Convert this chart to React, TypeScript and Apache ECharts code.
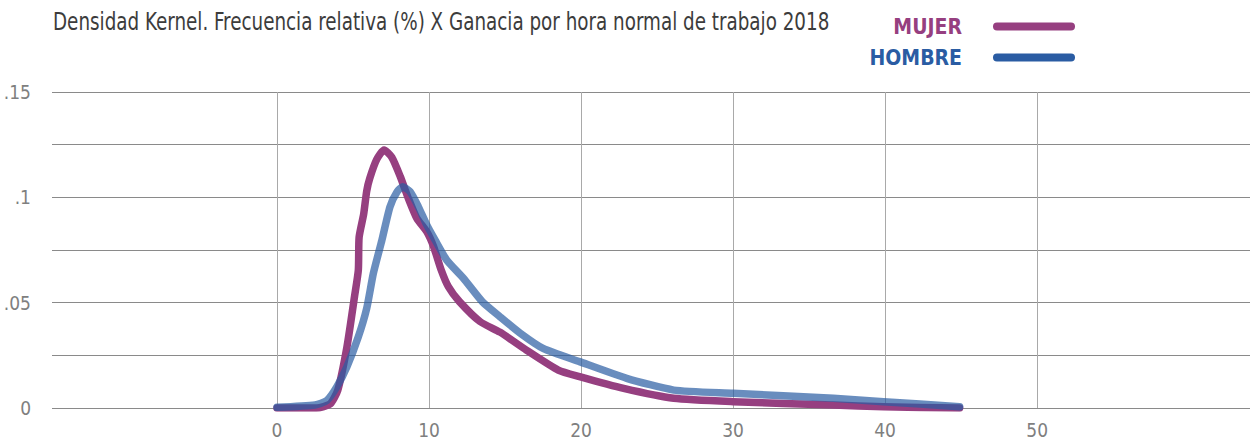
import React, { useEffect, useRef } from "react";
import * as echarts from "echarts";

const titleText = "Densidad Kernel. Frecuencia relativa (%) X Ganacia por hora normal de trabajo 2018";
const seriesNames = ["MUJER", "HOMBRE"];
const xTickValues = [0, 10, 20, 30, 40, 50];

const mujerX = [0, 2.6, 3.5, 4.0, 4.6, 5.1, 5.35, 5.4, 5.7, 5.9, 6.1, 6.56, 7.04, 7.55, 8.1, 8.64, 9.2, 9.85, 10.3, 10.8, 11.27, 12.0, 13.36, 14.67, 16.4, 18.5, 19.9, 22.8, 26.1, 30, 36.6, 39.9, 44.9];
const mujerY = [0, 0, 0.002, 0.0085, 0.029, 0.053, 0.0655, 0.081, 0.092, 0.103, 0.109, 0.118, 0.1225, 0.119, 0.11, 0.0995, 0.09, 0.0837, 0.0766, 0.0655, 0.0576, 0.0505, 0.041, 0.036, 0.0275, 0.018, 0.0149, 0.0093, 0.0046, 0.003, 0.0014, 0.0006, 0];

const hombreX = [0, 2.5, 3.27, 3.93, 4.6, 5.35, 5.9, 6.34, 6.9, 7.43, 7.9, 8.27, 8.75, 9.3, 9.85, 10.4, 11.16, 12.26, 13.5, 14.67, 16, 17.5, 19.9, 23, 26.1, 30, 36.6, 39.9, 44.9];
const hombreY = [0.0003, 0.0014, 0.0035, 0.01, 0.0196, 0.0338, 0.0473, 0.064, 0.0797, 0.0955, 0.1027, 0.105, 0.1027, 0.0955, 0.0869, 0.0797, 0.0703, 0.0616, 0.0505, 0.0433, 0.0355, 0.0283, 0.022, 0.0141, 0.0085, 0.007, 0.0046, 0.003, 0.0006];

const FONT = "'DejaVu Sans Condensed', sans-serif";
const MAGENTA = "#963f80";
const BLUE = "#2a5ca3";

const pair = (xs: number[], ys: number[]) => xs.map((x, i) => [x, ys[i]]);

const yLabel = (v: number) => {
  const r = Math.round(v * 1000) / 1000;
  if (Math.abs(r % 0.05) > 1e-6 && Math.abs((r % 0.05) - 0.05) > 1e-6) return "";
  if (r === 0) return "0";
  return String(r).replace(/^0/, "");
};

export default function App() {
  const ref = useRef<HTMLDivElement>(null);
  useEffect(() => {
    if (!ref.current) return;
    const chart = echarts.init(ref.current, undefined, { renderer: "svg" });
    const iconPath = "path://M4,0 L78,0 A4,4 0 0 1 78,8 L4,8 A4,4 0 0 1 4,0 Z";
    chart.setOption({
      animation: false,
      graphic: [
        {
          type: "text",
          x: 53,
          y: 21,
          scaleX: 0.815,
          style: {
            text: titleText,
            font: `normal 25px ${FONT}`,
            fill: "#3c3c3c",
            textVerticalAlign: "middle",
            textAlign: "left",
          },
        },
      ],
      legend: {
        orient: "vertical",
        right: 171,
        top: 11,
        align: "right",
        itemWidth: 82,
        itemHeight: 8,
        itemGap: 10,
        icon: iconPath,
        data: [
          { name: seriesNames[0], textStyle: { color: MAGENTA } },
          { name: seriesNames[1], textStyle: { color: BLUE } },
        ],
        textStyle: { fontFamily: FONT, fontSize: 21, fontWeight: "bold", padding: [0, 26, 0, 0] },
      },
      grid: { left: 52, right: 1, top: 92, bottom: 31, containLabel: false },
      xAxis: {
        type: "value",
        min: -14.8,
        max: 64,
        axisLine: { show: false },
        axisTick: { show: false, customValues: xTickValues },
        axisLabel: {
          customValues: xTickValues,
          margin: 12,
          fontFamily: FONT,
          fontSize: 19,
          color: "#7f7f7f",
        },
        splitLine: { show: true, lineStyle: { color: "#a9a9a9", width: 1 } },
      },
      yAxis: {
        type: "value",
        min: 0,
        max: 0.15,
        interval: 0.025,
        axisLine: { show: false },
        axisTick: { show: false },
        axisLabel: {
          margin: 21,
          fontFamily: FONT,
          fontSize: 19,
          color: "#7f7f7f",
          formatter: yLabel,
        },
        splitLine: { show: true, lineStyle: { color: "#8a8a8a", width: 1 } },
      },
      series: [
        {
          name: seriesNames[0],
          type: "line",
          data: pair(mujerX, mujerY),
          showSymbol: false,
          symbol: "none",
          smooth: 0.2,
          itemStyle: { color: MAGENTA },
          lineStyle: { color: MAGENTA, width: 7.5, cap: "round", join: "round" },
          z: 2,
        },
        {
          name: seriesNames[1],
          type: "line",
          data: pair(hombreX, hombreY),
          showSymbol: false,
          symbol: "none",
          smooth: 0.2,
          itemStyle: { color: BLUE },
          lineStyle: { color: BLUE, opacity: 0.7, width: 7.5, cap: "round", join: "round" },
          z: 3,
        },
      ],
    });
    return () => chart.dispose();
  }, []);
  return (
    <div
      ref={ref}
      style={{ position: "fixed", left: 0, top: 0, width: 1251, height: 439, background: "#fff" }}
    />
  );
}
